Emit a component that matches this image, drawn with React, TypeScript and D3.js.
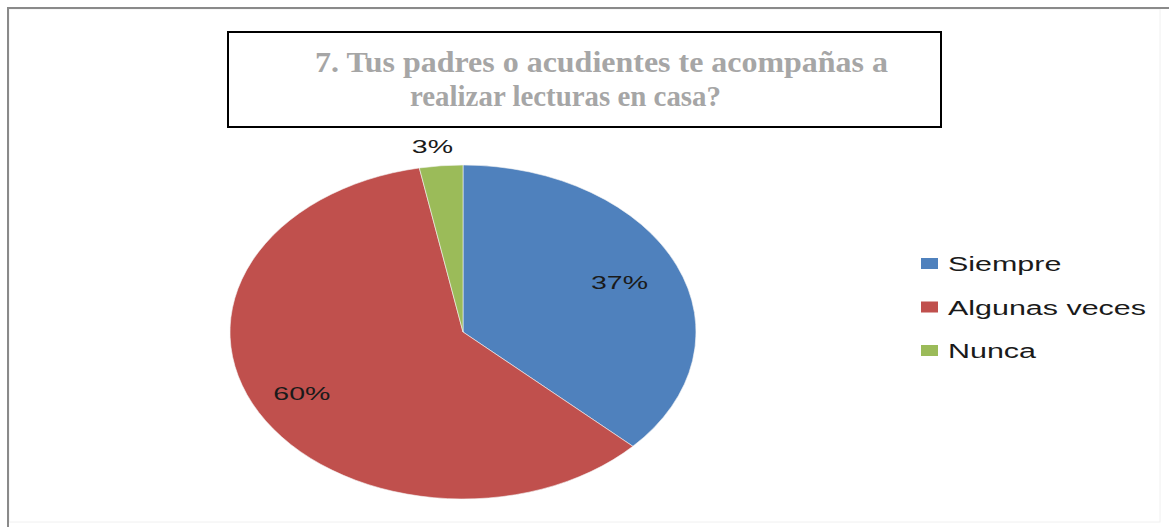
import React, { useEffect, useRef } from "react";
import * as d3 from "d3";

const categories = ["Siempre", "Algunas veces", "Nunca"];
const values = [37, 60, 3];
const labels = ["37%", "60%", "3%"];
const colors = ["#4f81bd", "#c0504d", "#9bbb59"];
const titleLines = ["7. Tus padres o acudientes te acompañas a", "realizar lecturas en casa?"];

export default function App() {
  const ref = useRef<SVGSVGElement | null>(null);
  const width = 1169;
  const height = 527;

  useEffect(() => {
    const svg = d3.select(ref.current).attr("width", width).attr("height", height);
    svg.selectAll("*").remove();

    svg.append("rect").attr("width", width).attr("height", height).attr("fill", "#ffffff");

    // outer frame
    svg.append("rect")
      .attr("x", 9).attr("y", 9).attr("width", 1151).attr("height", 513)
      .attr("fill", "none").attr("stroke", "#f0f0f0").attr("stroke-width", 1);
    svg.append("line").attr("x1", 7).attr("x2", width).attr("y1", 8).attr("y2", 8)
      .attr("stroke", "#8a8a8a").attr("stroke-width", 2);
    svg.append("line").attr("x1", 8).attr("x2", 8).attr("y1", 7).attr("y2", height)
      .attr("stroke", "#8a8a8a").attr("stroke-width", 2);

    // title box
    svg.append("rect")
      .attr("x", 228).attr("y", 32).attr("width", 713).attr("height", 95)
      .attr("fill", "#ffffff").attr("stroke", "#000000").attr("stroke-width", 2);
    const titlePos = [
      { x: 315, y: 72, w: 573 },
      { x: 410, y: 106, w: 311 },
    ];
    titleLines.forEach((t, i) => {
      svg.append("text")
        .attr("x", titlePos[i].x).attr("y", titlePos[i].y)
        .attr("textLength", titlePos[i].w).attr("lengthAdjust", "spacingAndGlyphs")
        .attr("font-family", "'Liberation Serif', 'Times New Roman', serif")
        .attr("font-weight", "700").attr("font-size", 30)
        .attr("fill", "#a6a6a6")
        .text(t);
    });

    // pie (ellipse)
    const cx = 463, cy = 332, rx = 233, ry = 167;
    const pie = d3.pie<number>().sort(null).value((d) => d);
    const arcs = pie(values);
    const arc = d3.arc<d3.PieArcDatum<number>>().innerRadius(0).outerRadius(rx);
    const g = svg.append("g").attr("transform", `translate(${cx},${cy}) scale(1,${ry / rx})`);
    g.selectAll("path").data(arcs).join("path")
      .attr("d", arc)
      .attr("fill", (_, i) => colors[i])
      .attr("stroke", "#f4f4f4").attr("stroke-width", 0.6)
      .attr("vector-effect", "non-scaling-stroke");

    // data labels
    const sx = 1.5;
    arcs.forEach((a, i) => {
      const mid = (a.startAngle + a.endAngle) / 2;
      const f = a.data < 5 ? 1.12 : 0.76;
      const lx = cx + rx * f * Math.sin(mid);
      const ly = cy - ry * f * Math.cos(mid);
      svg.append("text")
        .attr("transform", `translate(${lx - 6},${ly + 7}) scale(${sx},1)`)
        .attr("text-anchor", "middle")
        .attr("font-family", "'Liberation Sans', Arial, sans-serif")
        .attr("font-size", 19)
        .attr("fill", "#1a1a1a")
        .text(labels[i]);
    });

    // legend
    const lg = svg.append("g").attr("transform", "translate(921,271)");
    categories.forEach((c, i) => {
      const row = lg.append("g").attr("transform", `translate(0,${i * 43.5})`);
      row.append("rect")
        .attr("x", 0).attr("y", -13).attr("width", 17).attr("height", 11)
        .attr("fill", colors[i]);
      row.append("text")
        .attr("transform", `translate(27,0) scale(1.45,1)`)
        .attr("font-family", "'Liberation Sans', Arial, sans-serif")
        .attr("font-size", 21)
        .attr("fill", "#1a1a1a")
        .text(c);
    });
  }, []);

  return (
    <svg
      ref={ref}
      style={{ position: "absolute", left: 0, top: 0, display: "block" }}
    />
  );
}
